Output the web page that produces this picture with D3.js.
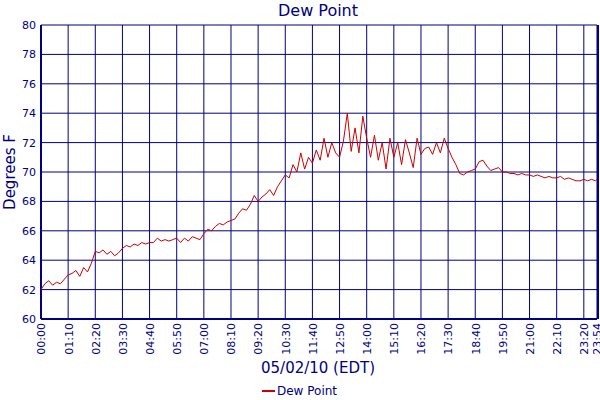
<!DOCTYPE html>
<html><head><meta charset="utf-8">
<script src="https://cdn.jsdelivr.net/npm/d3@7"></script>
<style>body{margin:0;background:#fff}svg{display:block}</style>
</head><body><svg id="c" width="600" height="400"></svg>
<script>
const tickLabels=["00:00","01:10","02:20","03:30","04:40","05:50","07:00","08:10","09:20","10:30","11:40","12:50","14:00","15:10","16:20","17:30","18:40","19:50","21:00","22:10","23:20","23:54"];
const tickMinutes=[0,70,140,210,280,350,420,490,560,630,700,770,840,910,980,1050,1120,1190,1260,1330,1400,1434];
const yTicks=[60,62,64,66,68,70,72,74,76,78,80];
const minutes=[0,10,20,30,40,50,60,70,80,90,100,110,120,130,140,150,160,170,180,190,200,210,220,230,240,250,260,270,280,290,300,310,320,330,340,350,360,370,380,390,400,410,420,430,440,450,460,470,480,490,500,510,520,530,540,550,560,570,580,590,600,610,620,630,640,650,660,670,680,690,700,710,720,730,740,750,760,770,780,790,800,810,820,830,840,850,860,870,880,890,900,910,920,930,940,950,960,970,980,990,1000,1010,1020,1030,1040,1050,1060,1070,1080,1090,1100,1110,1120,1130,1140,1150,1160,1170,1180,1190,1200,1210,1220,1230,1240,1250,1260,1270,1280,1290,1300,1310,1320,1330,1340,1350,1360,1370,1380,1390,1400,1410,1420,1430,1434];
const dewPoint=[
62.0,62.4,62.6,62.3,62.5,62.4,62.7,
63.0,63.1,63.3,62.9,63.5,63.2,63.8,
64.6,64.5,64.7,64.4,64.6,64.3,64.5,
64.8,65.0,64.9,65.1,65.0,65.2,65.1,
65.2,65.2,65.5,65.3,65.4,65.3,65.4,
65.5,65.2,65.5,65.3,65.6,65.5,65.4,
65.8,66.1,66.0,66.3,66.5,66.4,66.6,
66.7,66.8,67.2,67.5,67.4,67.8,68.4,
68.0,68.3,68.5,68.8,68.4,69.0,69.4,
69.8,69.6,70.5,70.0,71.3,70.2,71.0,
70.6,71.5,70.8,72.3,71.0,72.0,71.3,
71.0,72.1,74.0,71.4,73.0,71.3,73.8,
72.3,71.0,72.5,70.8,72.0,70.2,72.3,
71.0,72.0,70.5,72.2,71.3,70.3,72.3,
71.2,71.6,71.7,71.2,72.0,71.3,72.3,
71.6,71.0,70.5,69.9,69.8,70.0,70.1,
70.2,70.7,70.8,70.4,70.1,70.2,70.3,
70.0,70.0,69.9,69.9,69.8,69.9,69.8,
69.8,69.7,69.8,69.7,69.6,69.7,69.6,
69.6,69.7,69.5,69.6,69.5,69.4,69.4,
69.5,69.4,69.5,69.4,69.5];

const navy="#000080", font="'DejaVu Sans',Verdana,sans-serif";
const svg=d3.select("#c");
const L=41,R=597,T=25,B=319;
const x=d3.scaleLinear().domain([0,1434]).range([L,R]);
const y=d3.scaleLinear().domain([60,80]).range([B,T]);

const g=svg.append("g");
g.selectAll(".hg").data(yTicks).join("line").attr("x1",L).attr("x2",R).attr("y1",d=>y(d)).attr("y2",d=>y(d)).attr("stroke",navy).attr("stroke-width",1);
g.selectAll(".vg").data(tickMinutes).join("line").attr("x1",d=>x(d)).attr("x2",d=>x(d)).attr("y1",T).attr("y2",B).attr("stroke",navy).attr("stroke-width",1);
g.append("line").attr("x1",L).attr("x2",L).attr("y1",T).attr("y2",B).attr("stroke",navy).attr("stroke-width",2);
g.append("line").attr("x1",R+1).attr("x2",R+1).attr("y1",T).attr("y2",B).attr("stroke",navy).attr("stroke-width",2);
g.append("line").attr("x1",L).attr("x2",R).attr("y1",B).attr("y2",B).attr("stroke",navy).attr("stroke-width",2);

const yAx=svg.append("g").attr("transform",`translate(${L},0)`).call(d3.axisLeft(y).tickValues(yTicks).tickSize(0).tickPadding(5));
yAx.select(".domain").remove();
yAx.selectAll("text").attr("fill",navy).style("font-family",font).style("font-size","11px");

const xAx=svg.append("g").attr("transform",`translate(0,${B})`).call(d3.axisBottom(x).tickValues(tickMinutes).tickFormat((d,i)=>tickLabels[i]).tickSize(0));
xAx.select(".domain").remove();
xAx.selectAll("text").attr("fill",navy).style("font-family",font).style("font-size","11px")
  .attr("transform","rotate(-90)").attr("text-anchor","end").attr("x",-4).attr("y",0).attr("dy","0.35em");

svg.append("path").datum(dewPoint).attr("fill","none").attr("stroke","#cc0000").attr("stroke-width",1)
  .attr("d",d3.line().x((d,i)=>x(minutes[i])).y(d=>y(d)));

svg.append("text").attr("x",318).attr("y",16).attr("text-anchor","middle").attr("fill",navy).style("font-family",font).style("font-size","16px").text("Dew Point");
svg.append("text").attr("transform","translate(15,172) rotate(-90)").attr("text-anchor","middle").attr("fill",navy).style("font-family",font).style("font-size","15px").text("Degrees F");
svg.append("text").attr("x",318).attr("y",373).attr("text-anchor","middle").attr("fill",navy).style("font-family",font).style("font-size","15px").text("05/02/10 (EDT)");
svg.append("line").attr("x1",262).attr("x2",275).attr("y1",391).attr("y2",391).attr("stroke","#cc0000").attr("stroke-width",2);
svg.append("text").attr("x",277).attr("y",395).attr("fill",navy).style("font-family",font).style("font-size","12px").text("Dew Point");
</script></body></html>
